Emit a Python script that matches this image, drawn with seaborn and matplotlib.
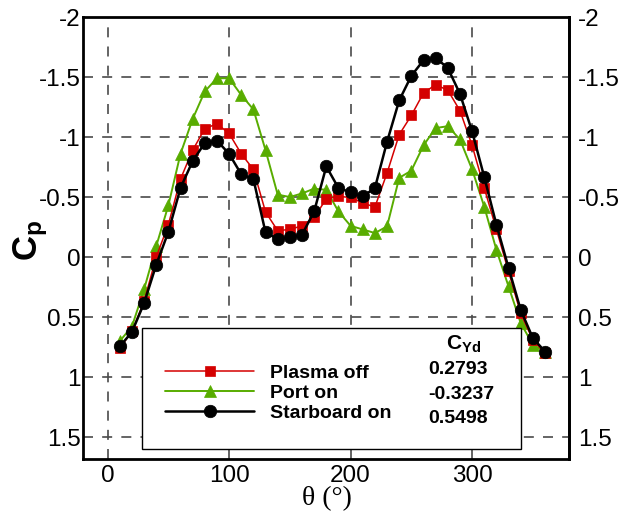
import numpy as np
import pandas as pd
import matplotlib
matplotlib.use("Agg")
import matplotlib.pyplot as plt
import seaborn as sns
from matplotlib.patches import Rectangle
from matplotlib.ticker import MultipleLocator, NullLocator

# ---------------- data ----------------
theta = [10, 20, 30, 40, 50, 60, 70, 80, 90, 100, 110, 120, 130, 140, 150, 160, 170, 180,
         190, 200, 210, 220, 230, 240, 250, 260, 270, 280, 290, 300, 310, 320, 330, 340, 350, 360]
plasma_off = [0.76, 0.62, 0.37, 0.00, -0.27, -0.65, -0.89, -1.07, -1.11, -1.03, -0.86, -0.73,
              -0.375, -0.22, -0.23, -0.26, -0.33, -0.485, -0.505, -0.497, -0.45, -0.417,
              -0.70, -1.02, -1.18, -1.367, -1.436, -1.39, -1.22, -0.93, -0.575, -0.23,
              0.12, 0.47, 0.69, 0.80]
port_on = [0.70, 0.58, 0.27, -0.09, -0.43, -0.86, -1.15, -1.38, -1.49, -1.49, -1.35, -1.23,
           -0.89, -0.52, -0.50, -0.53, -0.57, -0.56, -0.38, -0.26, -0.23, -0.20,
           -0.255, -0.66, -0.72, -0.93, -1.075, -1.09, -0.98, -0.73, -0.42, -0.06,
           0.245, 0.55, 0.73, 0.79]
starboard_on = [0.745, 0.625, 0.385, 0.065, -0.21, -0.575, -0.80, -0.95, -0.97, -0.86, -0.69, -0.65,
                -0.205, -0.15, -0.167, -0.186, -0.38, -0.755, -0.575, -0.54, -0.505, -0.575,
                -0.96, -1.305, -1.51, -1.64, -1.66, -1.575, -1.36, -1.047, -0.667, -0.27,
                0.09, 0.44, 0.675, 0.787]
series_names = ["Plasma off", "Port on", "Starboard on"]
cyd_values = ["0.2793", "-0.3237", "0.5498"]
x_ticks = [0, 100, 200, 300]
x_tick_labels = ["0", "100", "200", "300"]
y_ticks = [-2, -1.5, -1, -0.5, 0, 0.5, 1, 1.5]
y_tick_labels = ["-2", "-1.5", "-1", "-0.5", "0", "0.5", "1", "1.5"]

df = pd.DataFrame({
    "theta": theta * 3,
    "cp": plasma_off + port_on + starboard_on,
    "case": [series_names[0]] * len(theta) + [series_names[1]] * len(theta) + [series_names[2]] * len(theta),
})

# ---------------- style ----------------
sns.set_theme(style="white")
plt.rcParams['font.family'] = ['Liberation Sans', 'DejaVu Sans']
plt.rcParams['text.color'] = 'black'
plt.rcParams['axes.labelcolor'] = 'black'
plt.rcParams['xtick.color'] = 'black'
plt.rcParams['ytick.color'] = 'black'
plt.rcParams['mathtext.fontset'] = 'custom'
plt.rcParams['mathtext.rm'] = 'Liberation Sans'
plt.rcParams['mathtext.it'] = 'Liberation Sans:italic'
plt.rcParams['mathtext.bf'] = 'Liberation Sans:bold'

W, H = 628, 514
fig = plt.figure(figsize=(W / 100, H / 100), dpi=100)
L, R, T, B = 83.3, 569.3, 17.0, 459.3
ax = fig.add_axes([L / W, 1 - B / H, (R - L) / W, (B - T) / H])


def axx(px):
    return (px - L) / (R - L)


def axy(py):
    return 1 - (py - T) / (B - T)


styles = {
    "Port on": dict(color="#58ac00", marker="^", markersize=8.5, linewidth=1.4, zorder=3),
    "Plasma off": dict(color="#d40000", marker="s", markersize=7, linewidth=1.1, zorder=4),
    "Starboard on": dict(color="black", marker="o", markersize=9, linewidth=1.8, zorder=5),
}
for name in ["Port on", "Plasma off", "Starboard on"]:
    st = styles[name]
    sns.lineplot(data=df[df["case"] == name], x="theta", y="cp", ax=ax,
                 color=st["color"], marker=st["marker"], markersize=st["markersize"],
                 markeredgecolor=st["color"], markeredgewidth=0.5,
                 linewidth=st["linewidth"], zorder=st["zorder"], label=name)

ax.set_xlim(-20, 380)
ax.set_ylim(1.685, -2)
ax.set_xlabel("")
ax.set_ylabel("")
ax.set_xticks(x_ticks, x_tick_labels)
ax.set_yticks(y_ticks, y_tick_labels)
ax.xaxis.set_minor_locator(MultipleLocator(20))
ax.yaxis.set_minor_locator(MultipleLocator(0.1))

ax.set_axisbelow(True)
ax.grid(True, which="major", color="#4a4a4a", linestyle=(0, (6, 5.5)), linewidth=1.2)

ax.tick_params(axis="both", which="both", direction="in", top=False, right=False,
               width=1, color="black", labelcolor="black")
ax.tick_params(which="major", length=6.5)
ax.tick_params(which="minor", length=4)
ax.tick_params(axis="x", which="major", labelsize=17.5, pad=4)
ax.tick_params(axis="y", which="major", labelsize=17.5, pad=2)

for s in ax.spines.values():
    s.set_linewidth(2)
    s.set_color("black")
    s.set_visible(True)

sec = ax.secondary_yaxis("right")
sec.set_yticks(y_ticks, y_tick_labels)
sec.yaxis.set_minor_locator(NullLocator())
sec.tick_params(axis="y", which="both", direction="in", length=0, pad=6.5, labelsize=17.5,
                labelcolor="black")
sec.spines["right"].set_linewidth(2)
sec.spines["right"].set_color("black")

# legend box
box = Rectangle((axx(141.7), axy(449.3)), axx(520.7) - axx(141.7), axy(328.3) - axy(449.3),
                transform=ax.transAxes, facecolor="white", edgecolor="black", linewidth=1,
                zorder=6)
ax.add_patch(box)

handles, labels = ax.get_legend_handles_labels()
order = [labels.index(n) for n in series_names]
leg = ax.legend([handles[i] for i in order], [labels[i] for i in order],
                loc="center left", bbox_to_anchor=(axx(165), axy(393.0)),
                frameon=False, prop={"weight": "bold", "size": 14},
                handlelength=4.6, handletextpad=0.8, labelspacing=0.12,
                borderpad=0, borderaxespad=0)
leg.set_zorder(7)
for t in leg.get_texts():
    t.set_color("black")

ax.text(axx(446), axy(350), r"$\mathbf{C_{Yd}}$", transform=ax.transAxes,
        ha="left", va="baseline", fontsize=15, zorder=8, color="black")
for val, ry in zip(cyd_values, [370.0, 394.5, 418.5]):
    ax.text(axx(428), axy(ry), val, transform=ax.transAxes, ha="left", va="center",
            fontsize=14, fontweight="bold", zorder=8, color="black")

# axis labels
fig.text(31 / W, 1 - 240 / H, r"$\mathbf{C_p}$", rotation=90, ha="center", va="center",
         fontsize=25, color="black")
fig.text(326.5 / W, 1 - 499 / H, "θ (°)", ha="center", va="center", fontsize=20,
         family=["Liberation Serif", "DejaVu Serif"], color="black")

fig.savefig("out.png", dpi=100)
